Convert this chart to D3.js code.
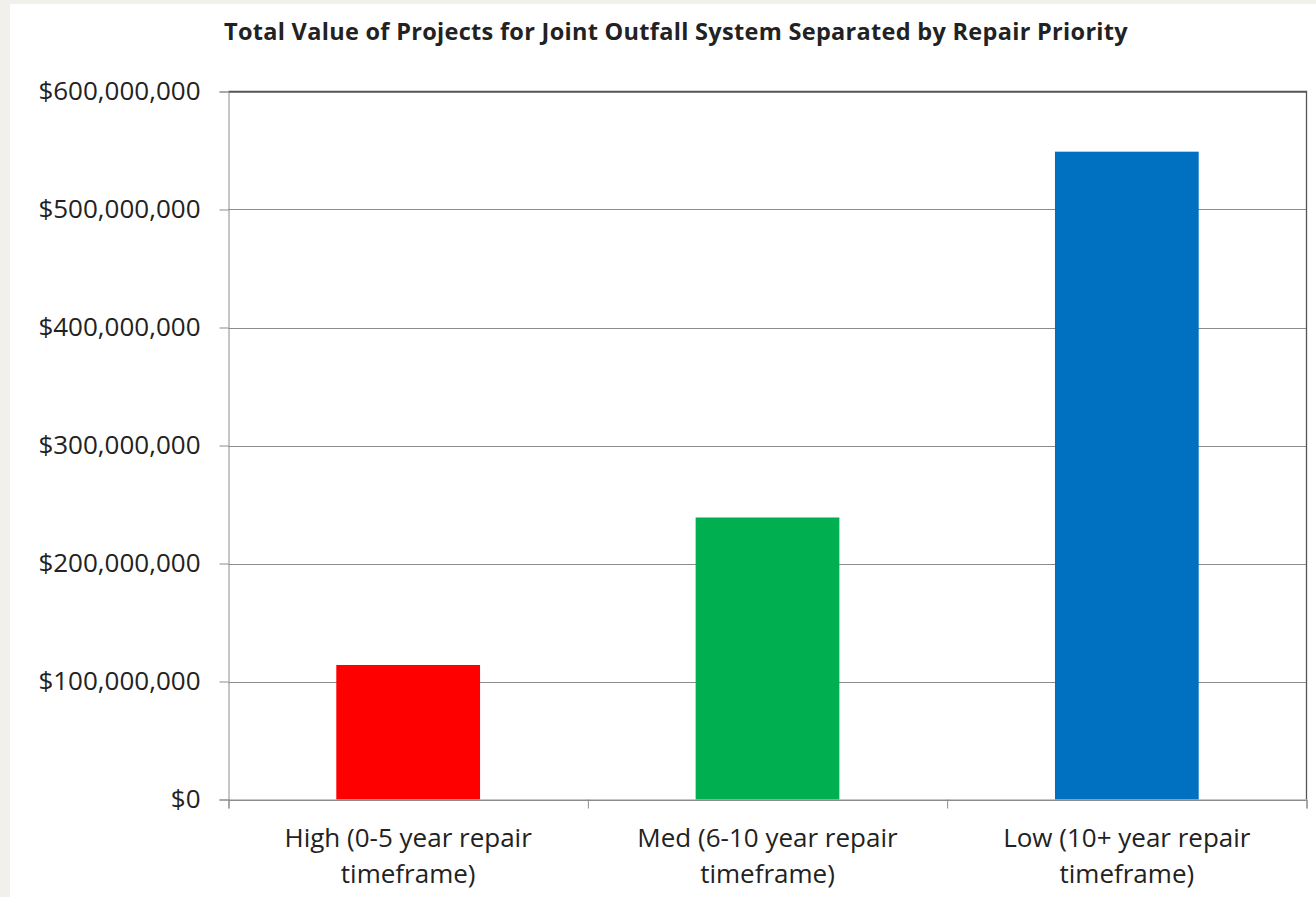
<!DOCTYPE html>
<html>
<head>
<meta charset="utf-8">
<script src="https://cdn.jsdelivr.net/npm/d3@7/dist/d3.min.js"></script>
<style>
  html, body { margin: 0; padding: 0; background: #f1f0eb; }
  svg { display: block; }
  text { font-family: "Open Sans", "Liberation Sans", sans-serif; fill: #222; }
</style>
</head>
<body>
<svg id="chart" width="1316" height="897"></svg>
<script>
// Chart content
const chartTitle = "Total Value of Projects for Joint Outfall System Separated by Repair Priority";
const categories = [
  ["High (0-5 year repair", "timeframe)"],
  ["Med (6-10 year repair", "timeframe)"],
  ["Low (10+ year repair", "timeframe)"]
];
const values = [114000000, 239000000, 549000000];
const barColors = ["#ff0000", "#00b050", "#0070c0"];
const yTicks = [0, 100000000, 200000000, 300000000, 400000000, 500000000, 600000000];

const svg = d3.select("#chart");
const W = 1316, H = 897;

// White panel over the grey page
svg.append("rect").attr("x", 10).attr("y", 4).attr("width", W - 10).attr("height", H - 4).attr("fill", "#ffffff");

const plot = { left: 228.5, right: 1306.5, top: 91.5, bottom: 799.5 };

const x = d3.scaleBand()
  .domain(d3.range(categories.length))
  .range([plot.left, plot.right])
  .paddingInner(0.6).paddingOuter(0.3);

const y = d3.scaleLinear().domain([0, 600000000]).range([plot.bottom, plot.top]);

const fmt = v => "$" + d3.format(",")(v);

// Horizontal gridlines
svg.append("g")
  .selectAll("line")
  .data(yTicks)
  .join("line")
  .attr("x1", plot.left).attr("x2", plot.right)
  .attr("y1", d => Math.round(y(d)) + 0.5).attr("y2", d => Math.round(y(d)) + 0.5)
  .attr("stroke", "#8c8c8c").attr("stroke-width", 1);

// Bars
svg.append("g")
  .selectAll("rect")
  .data(values)
  .join("rect")
  .attr("x", (d, i) => x(i))
  .attr("width", x.bandwidth())
  .attr("y", d => y(d))
  .attr("height", d => y(0) - y(d))
  .attr("fill", (d, i) => barColors[i]);

// Plot frame: top and right edges
svg.append("path")
  .attr("d", `M${plot.left},${plot.top}H${plot.right}V${plot.bottom}`)
  .attr("fill", "none").attr("stroke", "#555").attr("stroke-width", 1.3);

// Y axis
const yAxis = d3.axisLeft(y).tickValues(yTicks).tickFormat(fmt).tickSize(9).tickPadding(19);
const gy = svg.append("g").attr("transform", `translate(${plot.left},0)`).call(yAxis);
gy.select(".domain").attr("stroke", "#8c8c8c");
gy.selectAll(".tick line").attr("stroke", "#8c8c8c");
gy.selectAll(".tick text")
  .attr("font-size", 26)
  .attr("font-family", "'Open Sans', sans-serif")
  .attr("fill", "#222");

// X axis: ticks at category boundaries
const xBound = d3.scaleLinear().domain([0, categories.length]).range([plot.left, plot.right]);
const gx = svg.append("g").attr("transform", `translate(0,${plot.bottom})`)
  .call(d3.axisBottom(xBound).tickValues(d3.range(categories.length + 1)).tickFormat("").tickSize(9));
gx.select(".domain").attr("stroke", "#8c8c8c");
gx.selectAll(".tick line").attr("stroke", "#8c8c8c");

// Category labels (two lines each)
const lbl = svg.append("g").selectAll("text")
  .data(categories)
  .join("text")
  .attr("x", (d, i) => x(i) + x.bandwidth() / 2)
  .attr("y", 847)
  .attr("text-anchor", "middle")
  .attr("font-size", 26);
lbl.selectAll("tspan")
  .data(d => d)
  .join("tspan")
  .attr("x", function () { return d3.select(this.parentNode).attr("x"); })
  .attr("dy", (d, i) => i === 0 ? 0 : 36)
  .text(d => d);

// Title
svg.append("text")
  .attr("x", 676).attr("y", 40)
  .attr("text-anchor", "middle")
  .attr("font-size", 23.5)
  .attr("letter-spacing", 0.3)
  .attr("font-weight", "bold")
  .attr("fill", "#000")
  .text(chartTitle);
</script>
</body>
</html>
